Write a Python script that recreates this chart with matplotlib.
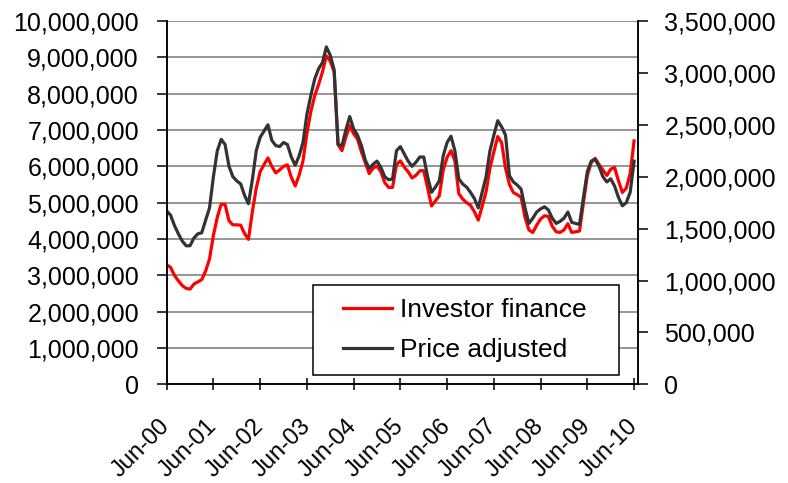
import matplotlib
matplotlib.use('Agg')
import matplotlib.pyplot as plt
from matplotlib.ticker import FuncFormatter, MultipleLocator
from matplotlib.patches import Rectangle
from matplotlib.transforms import ScaledTranslation
import numpy as np

plt.rcParams['font.family'] = ['Liberation Sans', 'DejaVu Sans']

# monatliche Werte Jun-00 .. Jun-10 (Millionen)
investor_finance = [
    3.29, 3.22, 3.00, 2.85, 2.72, 2.64, 2.62, 2.76, 2.82, 2.88,
    3.12, 3.45, 4.10, 4.60, 4.96, 4.95, 4.50, 4.39, 4.39, 4.38,
    4.15, 3.99, 4.75, 5.40, 5.85, 6.05, 6.23, 6.00, 5.82, 5.90,
    6.00, 6.04, 5.70, 5.46, 5.75, 6.15, 6.90, 7.50, 7.94, 8.25,
    8.60, 9.04, 8.90, 8.60, 6.60, 6.43, 6.80, 7.12, 6.90, 6.75,
    6.40, 6.10, 5.80, 5.95, 6.01, 5.85, 5.55, 5.42, 5.42, 6.05,
    6.15, 5.98, 5.85, 5.68, 5.75, 5.88, 5.88, 5.40, 4.91, 5.05,
    5.19, 5.90, 6.25, 6.43, 6.15, 5.25, 5.10, 5.00, 4.93, 4.75,
    4.52, 4.90, 5.30, 5.95, 6.40, 6.82, 6.65, 5.95, 5.50, 5.28,
    5.22, 5.15, 4.60, 4.25, 4.18, 4.38, 4.55, 4.64, 4.62, 4.35,
    4.20, 4.18, 4.25, 4.42, 4.18, 4.20, 4.22, 5.00, 5.75, 6.10,
    6.22, 6.05, 5.90, 5.75, 5.92, 5.97, 5.60, 5.28, 5.40, 5.80,
    6.70,
]
price_adjusted = [
    1.67, 1.63, 1.53, 1.45, 1.38, 1.335, 1.335, 1.41, 1.45, 1.46,
    1.58, 1.70, 2.00, 2.25, 2.36, 2.31, 2.10, 2.00, 1.96, 1.93,
    1.82, 1.74, 1.97, 2.25, 2.38, 2.44, 2.50, 2.35, 2.30, 2.29,
    2.33, 2.31, 2.19, 2.11, 2.20, 2.33, 2.60, 2.78, 2.94, 3.04,
    3.10, 3.25, 3.17, 3.03, 2.31, 2.30, 2.45, 2.58, 2.46, 2.40,
    2.30, 2.16, 2.08, 2.12, 2.15, 2.09, 2.00, 1.97, 1.98, 2.25,
    2.29, 2.22, 2.15, 2.10, 2.14, 2.19, 2.19, 2.00, 1.85, 1.90,
    1.96, 2.20, 2.33, 2.39, 2.25, 1.98, 1.93, 1.90, 1.85, 1.79,
    1.70, 1.85, 2.00, 2.25, 2.40, 2.54, 2.48, 2.40, 2.01, 1.95,
    1.92, 1.88, 1.70, 1.55, 1.60, 1.66, 1.69, 1.71, 1.68, 1.60,
    1.55, 1.57, 1.60, 1.66, 1.56, 1.55, 1.54, 1.80, 2.05, 2.15,
    2.17, 2.10, 2.00, 1.95, 1.98, 1.91, 1.80, 1.72, 1.75, 1.85,
    2.15,
]
tick_labels = ['Jun-00', 'Jun-01', 'Jun-02', 'Jun-03', 'Jun-04', 'Jun-05',
               'Jun-06', 'Jun-07', 'Jun-08', 'Jun-09', 'Jun-10']

x = np.arange(len(investor_finance))
fin = np.array(investor_finance) * 1e6
price = np.array(price_adjusted) * 1e6

fig = plt.figure(figsize=(7.88, 4.83), dpi=100)
ax = fig.add_axes([0.2115, 0.2043, 0.5981, 0.7522])
ax2 = ax.twinx()

komma = FuncFormatter(lambda v, p: '{:,.0f}'.format(v))

ax.plot(x, fin, color='#ff0000', lw=2.3, label='Investor finance', solid_joinstyle='round')
ax2.plot(x, price, color='#333333', lw=2.3, label='Price adjusted', solid_joinstyle='round')

ax.set_xlim(0, 121)
ax.set_ylim(0, 10e6)
ax2.set_ylim(0, 3.5e6)
ax.yaxis.set_major_locator(MultipleLocator(1e6))
ax2.yaxis.set_major_locator(MultipleLocator(5e5))
ax.yaxis.set_major_formatter(komma)
ax2.yaxis.set_major_formatter(komma)
ax.yaxis.grid(True, color='#8c8c8c', lw=1.3)
ax.set_axisbelow(True)

ax.set_xticks(x[::12])
ax.set_xticklabels(tick_labels, rotation=45, ha='right', va='center',
                   rotation_mode='anchor')
# Beschriftung etwas nach rechts schieben
versatz = ScaledTranslation(1.8 / 72, 0, fig.dpi_scale_trans)
for lab in ax.get_xticklabels():
    lab.set_transform(lab.get_transform() + versatz)

for a in (ax, ax2):
    for s in a.spines.values():
        s.set_linewidth(1.1)
    a.spines['top'].set_visible(False)
ax.tick_params(axis='y', direction='out', length=7, width=1.1, pad=13, labelsize=18)
ax2.tick_params(axis='y', direction='out', length=7, width=1.1, pad=12, labelsize=18)
ax.tick_params(axis='x', direction='inout', length=9, width=1.1, pad=23.5, labelsize=17)

# Legendenrahmen
rahmen = Rectangle((0.310, 0.0256), 0.650, 0.2474, transform=ax2.transAxes,
                   facecolor='white', edgecolor='black', lw=1.1, zorder=5)
ax2.add_patch(rahmen)
h1, l1 = ax.get_legend_handles_labels()
h2, l2 = ax2.get_legend_handles_labels()
leg = ax2.legend(h1 + h2, l1 + l2, loc='center left', bbox_to_anchor=(0.374, 0.149),
                 frameon=False, fontsize=19, borderpad=0, borderaxespad=0,
                 handlelength=1.86, handletextpad=0.3, labelspacing=0.6)
leg.set_zorder(6)

fig.savefig('out.png', dpi=100)
